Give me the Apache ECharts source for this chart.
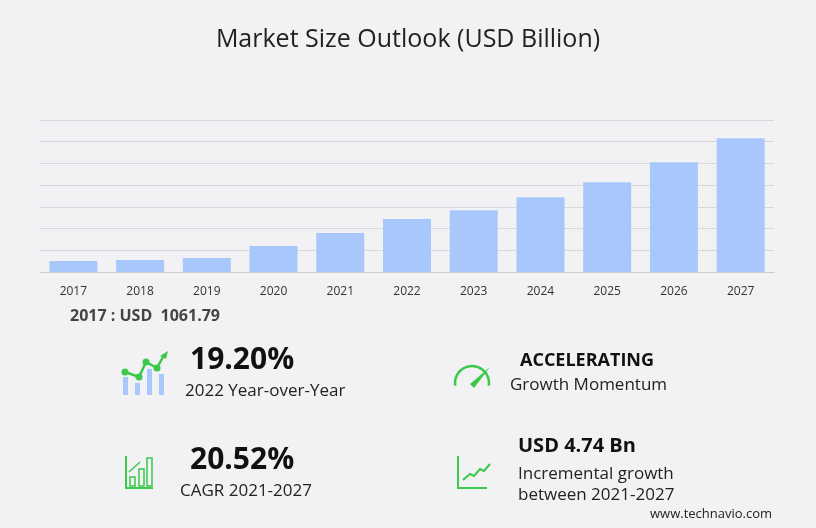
<!DOCTYPE html><html><head><meta charset="utf-8">
<script src="https://cdn.jsdelivr.net/npm/echarts@6/dist/echarts.min.js"></script>
<style>html,body{margin:0;background:#f2f2f4}#c{width:816px;height:528px}</style></head><body><div id="c"></div>
<script>
const years=['2017','2018','2019','2020','2021','2022','2023','2024','2025','2026','2027'];
const values=[1061.79,1158,1351,2509,3764,5115,5983,7238,8685,10615,12931];
const F='"Open Sans","Noto Sans",sans-serif';
const G='#3cc84a';
const t=(x,y,text,size,weight,color)=>({type:'text',left:x,top:y,style:{text,font:`${weight||'normal'} ${size}px ${F}`,fill:color||'#222'}});
const c=echarts.init(document.getElementById('c'));
c.setOption({backgroundColor:'#f2f2f4',animation:false,
title:{text:'Market Size Outlook (USD Billion)',left:'center',top:22,textStyle:{fontFamily:F,fontSize:25,fontWeight:'normal',color:'#222'}},
grid:{left:40,right:42,top:120,bottom:256},
xAxis:{type:'category',data:years,axisTick:{show:false},axisLine:{lineStyle:{color:'#ccc'}},axisLabel:{color:'#333',fontSize:12,fontFamily:F,margin:14}},
yAxis:{type:'value',min:0,max:14700,interval:2100,axisLabel:{show:false},splitLine:{lineStyle:{color:'#d8d8dc'}}},
series:[{type:'bar',data:values,barWidth:48,itemStyle:{color:'#a8c8fc'}}],
graphic:[
t(70,308,'2017 : USD  1061.79',16,'bold','#444'),
t(190,345,'19.20%',30,'bold','#111'),
t(185,383,'2022 Year-over-Year',17,'normal','#222'),
t(520,352,'ACCELERATING',18,'bold','#111'),
t(510,377,'Growth Momentum',17,'normal','#222'),
t(190,445,'20.52%',30,'bold','#111'),
t(180,483,'CAGR 2021-2027',17,'normal','#222'),
t(518,436,'USD 4.74 Bn',20,'bold','#111'),
t(518,466,'Incremental growth',17,'normal','#222'),
t(518,487,'between 2021-2027',17,'normal','#222'),
t(650,508,'www.technavio.com',13,'normal','#222'),
{type:'rect',shape:{x:123,y:377,width:5,height:18},style:{fill:'#a8c8fc'}},
{type:'rect',shape:{x:135,y:383,width:5,height:12},style:{fill:'#a8c8fc'}},
{type:'rect',shape:{x:147,y:369,width:5,height:26},style:{fill:'#a8c8fc'}},
{type:'rect',shape:{x:159,y:374,width:5,height:21},style:{fill:'#a8c8fc'}},
{type:'polyline',shape:{points:[[125,372],[139,377],[146,362],[157,368],[164,355]]},style:{stroke:G,lineWidth:2.5,fill:null}},
...[[125,372],[139,377],[146,362],[157,368]].map(p=>({type:'circle',shape:{cx:p[0],cy:p[1],r:3.5},style:{fill:G}})),
{type:'polygon',shape:{points:[[160,356],[168,351],[166,359]]},style:{fill:G}},
{type:'arc',shape:{cx:472,cy:383,r:17,startAngle:Math.PI*0.95,endAngle:Math.PI*2.05},style:{stroke:G,lineWidth:2.5,fill:null}},
{type:'polygon',shape:{points:[[470,384],[490,367],[474,388]]},style:{fill:G}},
{type:'polyline',shape:{points:[[126,456],[126,488],[153,488]]},style:{stroke:G,lineWidth:2,fill:null}},
{type:'rect',shape:{x:130,y:477,width:5,height:9},style:{stroke:G,fill:null,lineWidth:1.5}},
{type:'rect',shape:{x:139,y:469,width:5,height:17},style:{stroke:G,fill:null,lineWidth:1.5}},
{type:'rect',shape:{x:147,y:458,width:5,height:28},style:{stroke:G,fill:null,lineWidth:1.5}},
{type:'polyline',shape:{points:[[129,472],[140,462]]},style:{stroke:G,lineWidth:1.5,fill:null}},
{type:'polyline',shape:{points:[[458,456],[458,488],[487,488]]},style:{stroke:G,lineWidth:2,fill:null}},
{type:'polyline',shape:{points:[[463,480],[470,474],[474,476],[480,469],[484,471],[490,464]]},style:{stroke:G,lineWidth:2,fill:null}}
]});
</script></body></html>
